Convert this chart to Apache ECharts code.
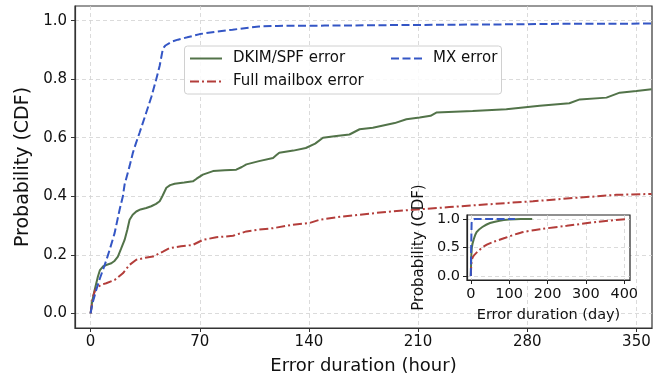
<!DOCTYPE html>
<html>
<head>
<meta charset="utf-8">
<script src="https://cdn.jsdelivr.net/npm/echarts@6/dist/echarts.min.js"></script>
<style>html,body{margin:0;padding:0;background:#fff;}#c{width:660px;height:378px;}</style>
</head>
<body>
<div id="c"></div>
<script>
// ---- Main chart data (hours) ----
const mainXTicks = [0, 70, 140, 210, 280, 350];
const mainYTicks = [0, 0.2, 0.4, 0.6, 0.8, 1.0];
const seriesNames = ['DKIM/SPF error', 'Full mailbox error', 'MX error'];

const dkimHours = [0,1,2.6,4.7,6,7.9,10,13.3,15.5,17.5,19.5,21.8,23.5,25,27,29.3,32,35.7,38.9,42,44.3,46,48.6,51,53.9,60,65.6,68,72,78.5,86,93.4,97,99.9,108,117,119,121,130,138,144,149,157.6,166,172.5,181,195,202.5,211,218,221.7,245,266.6,288,307,313.7,330.8,339.3,350,359.7];
const dkimCdf   = [0,0.04,0.08,0.126,0.148,0.16,0.165,0.171,0.18,0.194,0.22,0.251,0.285,0.32,0.337,0.348,0.355,0.36,0.366,0.374,0.383,0.40,0.429,0.438,0.443,0.447,0.451,0.46,0.474,0.486,0.489,0.491,0.50,0.509,0.52,0.531,0.54,0.549,0.556,0.565,0.58,0.60,0.606,0.611,0.629,0.634,0.65,0.663,0.669,0.675,0.686,0.691,0.697,0.709,0.718,0.731,0.737,0.754,0.76,0.766];

const fullHours = [0,1.5,3,4.7,7,10,15.4,20.7,25,29.3,35,40,46.4,50.7,58,65.6,72,80.6,91.3,99.9,108,117,129.8,140.5,147,160,172.5,190,206.8,230,266.6,283.7,309.4,325,337.2,359.7];
const fullCdf   = [0,0.057,0.08,0.091,0.098,0.103,0.114,0.137,0.166,0.183,0.19,0.194,0.211,0.223,0.229,0.234,0.251,0.26,0.265,0.28,0.286,0.291,0.303,0.309,0.32,0.33,0.337,0.347,0.354,0.363,0.377,0.383,0.394,0.40,0.405,0.408];

const mxHours = [0,1,3.6,6,7.9,10,12.2,15.4,18.6,20.7,21.8,25,27.2,29,31.4,35.7,39,42.1,44.3,46.4,48,52,56,62,70,80,91,100,108,120,150,200,260,300,360];
const mxCdf   = [0,0.03,0.08,0.12,0.148,0.18,0.217,0.274,0.354,0.40,0.44,0.503,0.55,0.58,0.617,0.686,0.74,0.80,0.846,0.905,0.915,0.928,0.935,0.943,0.954,0.962,0.969,0.975,0.98,0.982,0.983,0.985,0.987,0.989,0.99];

// ---- Inset data (days) ----
const insetXTicks = [0, 100, 200, 300, 400];
const insetYTicks = [0, 0.5, 1.0];
const dkimDays = [0,1,2,4,7,15,30,50,75,100,130,160];
const dkimDayCdf = [0,0.3,0.45,0.55,0.63,0.77,0.86,0.93,0.97,0.99,1.0,1.0];
const fullDays = [0,0.5,1,2,5,15,36,60,90,130,180,250,330,410];
const fullDayCdf = [0,0.1,0.17,0.25,0.33,0.41,0.53,0.6,0.67,0.76,0.82,0.88,0.95,1.0];
const mxDays = [0,0.5,1,2,4,10,115];
const mxDayCdf = [0,0.3,0.55,0.93,0.98,1.0,1.0];

const zip = (xs, ys) => xs.map((x, i) => [x, ys[i]]);

const COLORS = { dkim: '#527349', full: '#b33d3a', mx: '#3456c5' };
const FONT = 'DejaVu Sans';
const TXT = '#111';
const gridLine = { show: true, lineStyle: { color: '#d2d2d2', width: 0.8, type: [4, 3] } };

const chart = echarts.init(document.getElementById('c'), null, { renderer: 'canvas' });

const option = {
  animation: false,
  backgroundColor: '#fff',
  textStyle: { fontFamily: FONT },
  grid: [
    { left: 75, top: 6, width: 577, height: 322, show: true, borderColor: '#333', borderWidth: 1.2, backgroundColor: 'transparent', outerBoundsMode: 'none', containLabel: false },
    { left: 467, top: 215, width: 163, height: 65, show: true, borderColor: '#222', borderWidth: 1.2, backgroundColor: '#fff', z: 10, outerBoundsMode: 'none', containLabel: false }
  ],
  xAxis: [
    {
      gridIndex: 0, type: 'value', min: -10, max: 360,
      axisLine: { show: true, onZero: false, lineStyle: { color: '#333', width: 1.2 } },
      axisTick: { show: true, customValues: mainXTicks, length: 4, lineStyle: { color: '#333' } },
      axisLabel: { customValues: mainXTicks, fontSize: 15, color: TXT, margin: 7, fontFamily: FONT },
      splitLine: gridLine,
      name: 'Error duration (hour)', nameLocation: 'middle', nameGap: 29,
      nameTextStyle: { fontSize: 18, color: TXT, fontFamily: FONT }
    },
    {
      gridIndex: 1, type: 'value', min: -10, max: 415, z: 11,
      axisLine: { show: true, onZero: false, lineStyle: { color: '#222', width: 1.2 } },
      axisTick: { show: true, customValues: insetXTicks, length: 4, lineStyle: { color: '#222' } },
      axisLabel: { customValues: insetXTicks, fontSize: 14.5, color: TXT, margin: 7, fontFamily: FONT },
      splitLine: gridLine,
      name: 'Error duration (day)', nameLocation: 'middle', nameGap: 28,
      nameTextStyle: { fontSize: 14.5, color: TXT, fontFamily: FONT }
    }
  ],
  yAxis: [
    {
      gridIndex: 0, type: 'value', min: -0.05, max: 1.05,
      axisLine: { show: true, onZero: false, lineStyle: { color: '#333', width: 1.2 } },
      axisTick: { show: true, customValues: mainYTicks, length: 4, lineStyle: { color: '#333' } },
      axisLabel: { customValues: mainYTicks, fontSize: 15, color: TXT, margin: 8, fontFamily: FONT, formatter: v => v.toFixed(1) },
      splitLine: gridLine,
      name: 'Probability (CDF)', nameLocation: 'middle', nameGap: 39,
      nameTextStyle: { fontSize: 19, color: TXT, fontFamily: FONT }
    },
    {
      gridIndex: 1, type: 'value', min: -0.07, max: 1.07, z: 11,
      axisLine: { show: true, onZero: false, lineStyle: { color: '#222', width: 1.2 } },
      axisTick: { show: true, customValues: insetYTicks, length: 4, lineStyle: { color: '#222' } },
      axisLabel: { customValues: insetYTicks, fontSize: 14.5, color: TXT, margin: 7, fontFamily: FONT, formatter: v => v.toFixed(1) },
      splitLine: gridLine,
      name: 'Probability (CDF)', nameLocation: 'middle', nameGap: 40,
      nameTextStyle: { fontSize: 15, color: TXT, fontFamily: FONT }
    }
  ],
  graphic: [
    { type: 'rect', left: 184, top: 45.5, z: 20,
      shape: { width: 317, height: 48, r: 3 },
      style: { fill: 'rgba(255,255,255,0.85)', stroke: '#d0d0d0', lineWidth: 1 } }
  ],
  legend: [
    { data: [seriesNames[0], seriesNames[1]], orient: 'vertical', left: 189, top: 51, z: 21, padding: 0,
      itemWidth: 32, itemHeight: 14, itemGap: 8, itemStyle: { opacity: 0 },
      textStyle: { fontSize: 15, color: TXT, fontFamily: FONT, padding: [0, 0, 0, 6] } },
    { data: [seriesNames[2]], orient: 'vertical', left: 390, top: 51, z: 21, padding: 0,
      itemWidth: 31, itemHeight: 14, itemGap: 8, itemStyle: { opacity: 0 },
      textStyle: { fontSize: 15, color: TXT, fontFamily: FONT, padding: [0, 0, 0, 6] } }
  ],
  series: [
    { name: seriesNames[0], type: 'line', xAxisIndex: 0, yAxisIndex: 0, data: zip(dkimHours, dkimCdf),
      symbol: 'none', showSymbol: false, color: COLORS.dkim, lineStyle: { color: COLORS.dkim, width: 2, type: 'solid' }, z: 3 },
    { name: seriesNames[1], type: 'line', xAxisIndex: 0, yAxisIndex: 0, data: zip(fullHours, fullCdf),
      symbol: 'none', showSymbol: false, color: COLORS.full, lineStyle: { color: COLORS.full, width: 2, type: [9, 3, 2, 3] }, z: 3 },
    { name: seriesNames[2], type: 'line', xAxisIndex: 0, yAxisIndex: 0, data: zip(mxHours, mxCdf),
      symbol: 'none', showSymbol: false, color: COLORS.mx, lineStyle: { color: COLORS.mx, width: 2, type: [8, 3.5] }, z: 3 },
    { name: 'inset-dkim', type: 'line', xAxisIndex: 1, yAxisIndex: 1, data: zip(dkimDays, dkimDayCdf), smooth: 0.3,
      symbol: 'none', showSymbol: false, lineStyle: { color: COLORS.dkim, width: 2, type: 'solid' }, z: 12 },
    { name: 'inset-full', type: 'line', xAxisIndex: 1, yAxisIndex: 1, data: zip(fullDays, fullDayCdf), smooth: 0.3,
      symbol: 'none', showSymbol: false, lineStyle: { color: COLORS.full, width: 2, type: [9, 3, 2, 3] }, z: 12 },
    { name: 'inset-mx', type: 'line', xAxisIndex: 1, yAxisIndex: 1, data: zip(mxDays, mxDayCdf),
      symbol: 'none', showSymbol: false, lineStyle: { color: COLORS.mx, width: 2, type: [8, 3.5] }, z: 12 }
  ]
};
chart.setOption(option);
</script>
</body>
</html>
